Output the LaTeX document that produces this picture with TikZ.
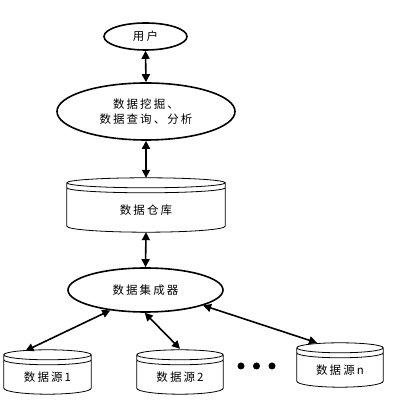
\documentclass[tikz,border=0pt]{standalone}
\usepackage{fontspec}
\newfontfamily\cjk[LetterSpace=18]{Noto Sans CJK SC}
\usetikzlibrary{shapes.geometric,arrows.meta,calc}

\newlength{\du}
\setlength{\du}{1pt}

\tikzset{
  oval/.style={ellipse,draw,line width=1.6\du,inner sep=0pt,align=center},
  store/.style={rectangle,inner sep=0pt,minimum width=86\du,minimum height=34\du},
  link/.style={line width=1.6\du,{Triangle[length=8pt,width=8pt]}-{Triangle[length=8pt,width=8pt]}},
}

% cylinder outline round a store node
\newcommand{\drum}[1]{%
\draw[line width=0.8\du] let \p1=(#1.north west), \p2=(#1.south east), \n1={(\x2-\x1)/2} in
  (\x1,\y1+5\du) arc[start angle=180,end angle=-180,x radius=\n1,y radius=5\du]
  (\x1,\y1+5\du) -- (\x1,\y2+6\du) arc[start angle=180,end angle=360,x radius=\n1,y radius=6\du] -- (\x2,\y1+5\du)
  (\x1,\y1) arc[start angle=180,end angle=360,x radius=\n1,y radius=5\du];}

\begin{document}
\begin{tikzpicture}[font=\cjk\fontsize{11.5}{15}\selectfont]
\useasboundingbox[fill=white] (0,0) rectangle (410\du,404\du);

\node[oval,minimum width=83\du,minimum height=27\du] (user) at (145.5\du,367.5\du) {用户};
\node[oval,minimum width=178\du,minimum height=57\du] (mine) at (146\du,292.5\du) {数据挖掘、\\数据查询、分析};
\node[store,minimum width=158\du,minimum height=44\du] (dw) at (146\du,194\du) {数据仓库};
\node[oval,minimum width=155\du,minimum height=44\du] (int) at (145.5\du,114\du) {数据集成器};

\node[store,minimum width=87\du] (src1) at (47.5\du,27\du) {数据源1};
\node[store] (src2) at (180\du,27\du) {数据源2};
\node[store] (srcn) at (340\du,34\du) {数据源n};

\foreach \s in {dw,src1,src2,srcn}
  \drum{\s};

% dots
\foreach \x in {241,256.5,272}
  \fill (\x\du,38\du) circle[radius=3.5\du];

\draw[link] (user.south) -- (mine.north);
\draw[link] (mine.south) -- ([yshift=10\du]dw.north);
\draw[link] (dw.south) -- (int.north);
\draw[link] (int.210) -- ([shift={(-22\du,9\du)}]src1.north);
\draw[link] (int.268) -- ([yshift=11\du]src2.north);
\draw[link] (int.345) -- ([shift={(-23\du,10\du)}]srcn.north);
\end{tikzpicture}
\end{document}
